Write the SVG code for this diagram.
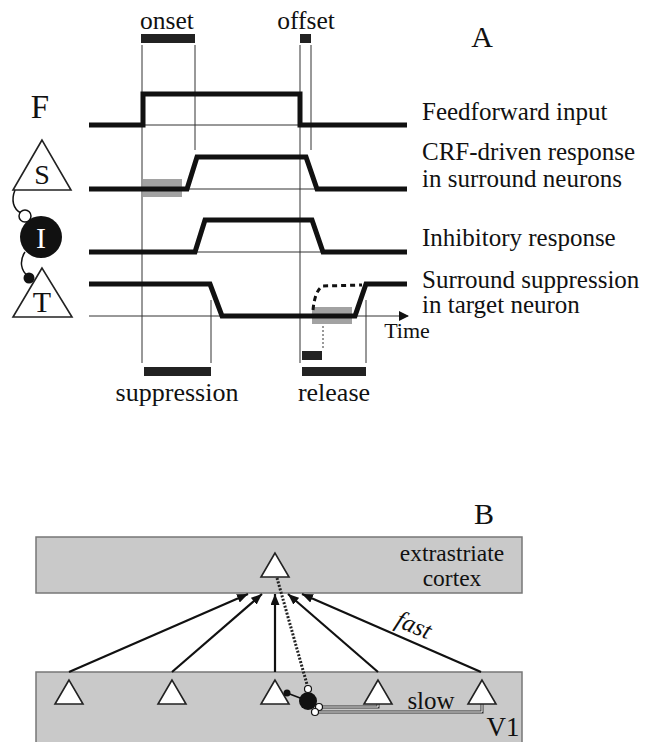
<svg xmlns="http://www.w3.org/2000/svg" width="657" height="742" viewBox="0 0 657 742">
<style>
text{font-family:"Liberation Serif","Times New Roman",serif;fill:#111}
.thick{fill:none;stroke:#111;stroke-width:5;stroke-linejoin:miter}
.thin{fill:none;stroke:#333;stroke-width:1}
.bar{fill:#222}
.gbar{fill:#a2a2a2}
.tri{fill:#fff;stroke:#222;stroke-width:1.6;stroke-linejoin:miter}
.box{fill:#c9c9c9;stroke:#777;stroke-width:1.5}
.arr{fill:none;stroke:#111;stroke-width:2.2}
.lbl{font-size:25px}
</style>
<defs>
<marker id="ah" viewBox="0 0 11 9" refX="11" refY="4.5" markerWidth="11" markerHeight="9" markerUnits="userSpaceOnUse" orient="auto">
<path d="M0,0 L11,4.5 L0,9 Z" fill="#111"/>
</marker>
<marker id="ta" viewBox="0 0 10 10" refX="9" refY="5" markerWidth="10" markerHeight="10" markerUnits="userSpaceOnUse" orient="auto">
<path d="M0,0 L10,5 L0,10 Z" fill="#111"/>
</marker>
</defs>

<!-- Panel A -->
<g id="panelA">
<text x="482" y="47" font-size="30" text-anchor="middle">A</text>
<text x="167" y="29" font-size="25.5" text-anchor="middle">onset</text>
<text x="306" y="29" font-size="25.5" text-anchor="middle">offset</text>
<rect class="bar" x="141" y="34" width="54" height="9"/>
<rect class="bar" x="300" y="34" width="11" height="9"/>

<g id="guides">
<line class="thin" x1="142" y1="45" x2="142" y2="363"/>
<line class="thin" x1="195" y1="45" x2="195" y2="150"/>
<line class="thin" x1="300" y1="45" x2="300" y2="363"/>
<line class="thin" x1="311" y1="45" x2="311" y2="150"/>
<line class="thin" x1="211" y1="300" x2="211" y2="363"/>
<line class="thin" x1="366" y1="300" x2="366" y2="363"/>
<line class="thin" x1="89" y1="125" x2="405" y2="125"/>
<line class="thin" x1="89" y1="189" x2="405" y2="189"/>
<line class="thin" x1="89" y1="252" x2="405" y2="252"/>
<line class="thin" x1="89" y1="316" x2="408" y2="316" marker-end="url(#ta)"/>
<line x1="323" y1="310" x2="323" y2="348" stroke="#333" stroke-width="1" stroke-dasharray="2,2"/>
</g>

<rect class="gbar" x="143" y="179" width="39" height="18"/>
<rect class="gbar" x="312" y="307" width="40" height="17"/>

<polyline class="thick" points="89,125 143,125 143,94 300,94 300,125 407,125"/>
<polyline class="thick" points="89,189 187,189 197,157 306,157 317,189 407,189"/>
<polyline class="thick" points="89,252 195,252 205,220 312,220 323,252 407,252"/>
<polyline class="thick" points="89,284 210,284 222,316 355,316 366,284 407,284"/>
<path d="M313,310 Q315,290 323,286 L362,285" fill="none" stroke="#111" stroke-width="3" stroke-dasharray="5,4"/>

<rect class="bar" x="302" y="351" width="20" height="9"/>
<rect class="bar" x="144" y="367" width="67" height="9"/>
<rect class="bar" x="302" y="367" width="64" height="9"/>

<text x="177" y="401" font-size="26" text-anchor="middle">suppression</text>
<text x="334" y="401" font-size="26" text-anchor="middle">release</text>
<text x="407" y="338" font-size="22" text-anchor="middle">Time</text>

<text class="lbl" x="422" y="120">Feedforward input</text>
<text class="lbl" x="422" y="160">CRF-driven response</text>
<text class="lbl" x="422" y="187">in surround neurons</text>
<text class="lbl" x="422" y="246">Inhibitory response</text>
<text class="lbl" x="422" y="288">Surround suppression</text>
<text class="lbl" x="422" y="313">in target neuron</text>

<text x="40" y="118" font-size="33" text-anchor="middle">F</text>
</g>

<g id="connectorsA">
<path d="M15,190 C11,200 13,209 21,213" fill="none" stroke="#111" stroke-width="1.5"/>
<path d="M25,252 C19,261 21,271 28,276" fill="none" stroke="#111" stroke-width="1.5"/>
</g>

<g id="nodeS">
<polygon class="tri" points="42,140 13,190 71,190"/>
<text x="42" y="184" font-size="28" text-anchor="middle">S</text>
</g>
<g id="nodeI">
<circle cx="41" cy="237" r="21" fill="#111"/>
<circle cx="25" cy="216" r="6" fill="#fff" stroke="#111" stroke-width="1.5"/>
<text x="41" y="248" font-size="30" text-anchor="middle" style="fill:#fff">I</text>
</g>
<g id="nodeT">
<polygon class="tri" points="42,268 13,317 72,317"/>
<circle cx="29" cy="278" r="5.5" fill="#111"/>
<text x="42" y="312" font-size="30" text-anchor="middle">T</text>
</g>

<!-- Panel B -->
<text x="484" y="524" font-size="30" text-anchor="middle">B</text>
<g id="extrastriate">
<rect class="box" x="36" y="537" width="486" height="56"/>
<text x="452" y="561" font-size="23.5" text-anchor="middle">extrastriate</text>
<text x="452" y="586" font-size="23.5" text-anchor="middle">cortex</text>
</g>
<g id="V1">
<rect class="box" x="36" y="672" width="486" height="75"/>
<text x="503" y="736" font-size="27" text-anchor="middle">V1</text>
<text x="431" y="709" font-size="25" text-anchor="middle">slow</text>
</g>

<g id="connectorsB">
<line class="arr" x1="69" y1="672" x2="248" y2="594" marker-end="url(#ah)"/>
<line class="arr" x1="172" y1="672" x2="262" y2="594" marker-end="url(#ah)"/>
<line class="arr" x1="275" y1="672" x2="275" y2="594" marker-end="url(#ah)"/>
<line class="arr" x1="378" y1="672" x2="288" y2="594" marker-end="url(#ah)"/>
<line class="arr" x1="481" y1="672" x2="302" y2="594" marker-end="url(#ah)"/>
<line x1="277" y1="578" x2="308" y2="688" stroke="#222" stroke-width="3" stroke-dasharray="2,1.6"/>
<polyline points="319,707 378,707 378,703" fill="none" stroke="#333" stroke-width="3"/>
<polyline points="319,707 378,707 378,703" fill="none" stroke="#fff" stroke-width="1"/>
<polyline points="315,712 482,712 482,703" fill="none" stroke="#333" stroke-width="3"/>
<polyline points="315,712 482,712 482,703" fill="none" stroke="#fff" stroke-width="1"/>
<line x1="308" y1="701" x2="287" y2="693" stroke="#111" stroke-width="1.6"/>
</g>
<text x="413" y="633" font-size="25" font-style="italic" text-anchor="middle" transform="rotate(23 413 627)">fast</text>

<g id="exTri"><polygon class="tri" points="275,553 261,577 289,577"/></g>
<g id="v1t1"><polygon class="tri" points="69,680 55,704 83,704"/></g>
<g id="v1t2"><polygon class="tri" points="172,680 158,704 186,704"/></g>
<g id="v1t3"><polygon class="tri" points="275,680 261,704 289,704"/></g>
<g id="v1t4"><polygon class="tri" points="378,680 364,704 392,704"/></g>
<g id="v1t5"><polygon class="tri" points="482,680 468,704 496,704"/></g>
<g id="inhB">
<circle cx="308" cy="701" r="9" fill="#111"/>
<circle cx="287" cy="693" r="3.5" fill="#111"/>
<circle cx="308" cy="689" r="3.5" fill="#fff" stroke="#111" stroke-width="1.2"/>
<circle cx="319" cy="707" r="3.5" fill="#fff" stroke="#111" stroke-width="1.2"/>
<circle cx="315" cy="712" r="3.5" fill="#fff" stroke="#111" stroke-width="1.2"/>
</g>
</svg>
